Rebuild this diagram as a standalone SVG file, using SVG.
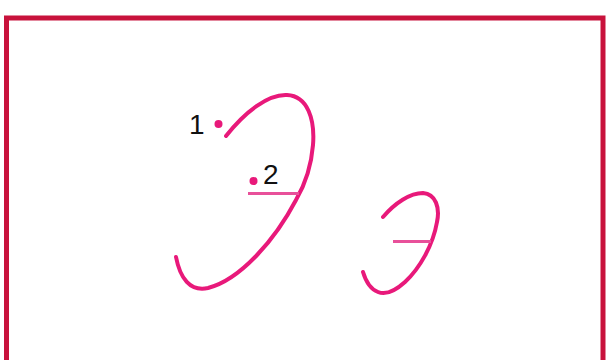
<svg xmlns="http://www.w3.org/2000/svg" width="608" height="360" viewBox="0 0 608 360">
<style>
.frame{fill:none;stroke:#c8123c;stroke-width:5}
.stroke{fill:none;stroke:#e8197a;stroke-width:4;stroke-linecap:round}
.bar{fill:none;stroke:#e8509a;stroke-width:3}
.dot{fill:#e8197a}
.lbl{font-family:"Liberation Sans",Arial,sans-serif;font-size:28px;fill:#111}
</style>
<rect width="608" height="360" fill="#ffffff"/>
<rect class="frame" x="6.5" y="18" width="596.5" height="360"/>
<g id="letter-large">
<path class="stroke" d="M226,136 C245,112 268,94 287,95 C308,96 315,120 313,145 C311,170 303,188 296,200 C275,240 240,280 208,288 C190,292 180,278 176,257"/>
<line class="bar" x1="248" y1="193.5" x2="299" y2="193.5"/>
<circle id="dot1" class="dot" cx="218.5" cy="124" r="4"/>
<circle id="dot2" class="dot" cx="253.5" cy="181" r="4"/>
<text class="lbl" x="189" y="134">1</text>
<text class="lbl" x="263" y="184">2</text>
</g>
<g id="letter-small">
<path class="stroke" d="M383,217 C395,203 410,193 423,193 C436,194 440,208 437,222 C433,245 420,268 405,282 C395,291 385,295 378,292 C370,289 366,282 363,272"/>
<line class="bar" x1="393" y1="241.5" x2="431" y2="241.5"/>
</g>
<g id="connectors"/>
</svg>
